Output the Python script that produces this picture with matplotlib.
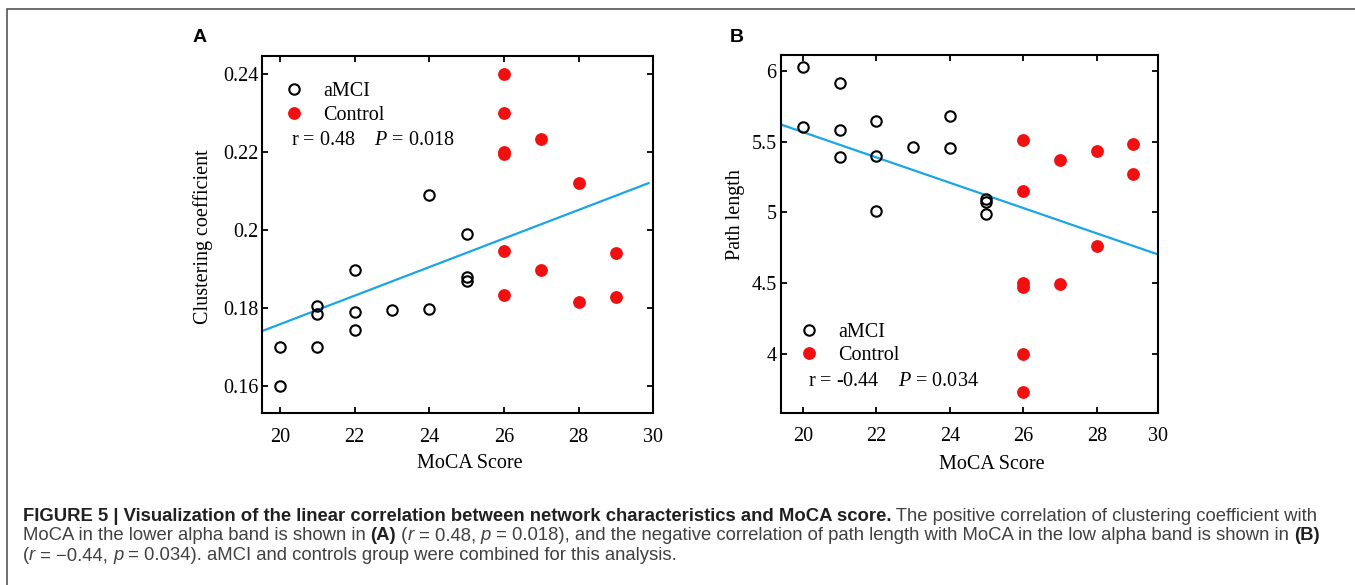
import matplotlib
matplotlib.use("Agg")
import matplotlib.pyplot as plt
from matplotlib.patches import Rectangle
import numpy as np

# panel A: clustering coefficient vs MoCA
a_amci_x = [20, 20, 21, 21, 21, 22, 22, 22, 23, 24, 24, 25, 25, 25]
a_amci_y = [0.160, 0.170, 0.1805, 0.1785, 0.170, 0.1897, 0.1789, 0.1744,
            0.1796, 0.209, 0.1798, 0.199, 0.188, 0.1868]
a_ctrl_x = [26, 26, 26, 26, 26, 26, 27, 27, 28, 28, 29, 29]
a_ctrl_y = [0.240, 0.2301, 0.2199, 0.2194, 0.1946, 0.1833, 0.2233, 0.1898,
            0.212, 0.1816, 0.1941, 0.1828]
a_fit_x = [19.53, 29.87]
a_fit_y = [0.1741, 0.2120]

# panel B: path length vs MoCA
b_amci_x = [20, 20, 21, 21, 21, 22, 22, 22, 23, 24, 24, 25, 25, 25]
b_amci_y = [6.023, 5.605, 5.915, 5.584, 5.394, 5.645, 5.398, 5.011,
            5.459, 5.683, 5.452, 5.095, 5.072, 4.989]
b_ctrl_x = [26, 26, 26, 26, 26, 26, 27, 27, 28, 28, 29, 29]
b_ctrl_y = [5.511, 5.152, 4.500, 4.477, 4.000, 3.734, 5.372, 4.493,
            5.436, 4.766, 5.483, 5.271]
b_fit_x = [19.36, 29.66]
b_fit_y = [5.624, 4.705]

plt.rcParams['font.family'] = ['Liberation Serif', 'DejaVu Serif']
plt.rcParams['mathtext.fontset'] = 'custom'
plt.rcParams['mathtext.rm'] = 'Liberation Serif'
plt.rcParams['mathtext.it'] = 'Liberation Serif:italic'

FS = 14.5
W, H = 1355, 585
fig = plt.figure(figsize=(W / 100, H / 100), dpi=100)


def style_axes(ax):
    for s in ax.spines.values():
        s.set_linewidth(1.5)
    ax.tick_params(direction='in', top=True, right=True, length=4, width=1.3,
                   labelsize=FS)
    ax.tick_params(axis='x', pad=10.5)
    ax.tick_params(axis='y', pad=3)


def scatter_panel(ax, ax_x, ax_y, cx, cy, fx, fy):
    ax.plot(fx, fy, color='#1ba5e6', lw=1.6, zorder=1)
    ax.plot(ax_x, ax_y, 'o', mfc='none', mec='black', mew=1.5, ms=7.5,
            label='aMCI', zorder=2)
    ax.plot(cx, cy, 'o', color='#f01010', ms=8.2, label='Control', zorder=2)


axA = fig.add_axes([0.1936, 0.2935, 0.2886, 0.6108])
scatter_panel(axA, a_amci_x, a_amci_y, a_ctrl_x, a_ctrl_y, a_fit_x, a_fit_y)
axA.set_xlim(19.53, 30)
axA.set_ylim(0.153, 0.2446)
axA.set_xticks([20, 22, 24, 26, 28, 30])
axA.set_yticks([0.16, 0.18, 0.2, 0.22, 0.24])
axA.set_yticklabels(['0.16', '0.18', '0.2', '0.22', '0.24'])
style_axes(axA)
axA.set_xlabel('MoCA Score', fontsize=FS)
axA.set_ylabel('Clustering coefficient', fontsize=FS)
axA.xaxis.set_label_coords(0.53, -0.114)
axA.yaxis.set_label_coords(-0.127, 0.494)
axA.legend(loc='upper left', bbox_to_anchor=(0.056, 0.927), frameon=False,
           fontsize=FS, borderpad=0, borderaxespad=0, handlelength=1.0,
           handletextpad=0.93, labelspacing=0.22, numpoints=1)
axA.text(0.0734, 0.7636, r'r = 0.48    $\mathit{P}$ = 0.018', transform=axA.transAxes,
         fontsize=FS, va='center', ha='left')

axB = fig.add_axes([0.5762, 0.2945, 0.2782, 0.6115])
scatter_panel(axB, b_amci_x, b_amci_y, b_ctrl_x, b_ctrl_y, b_fit_x, b_fit_y)
axB.set_xlim(19.40, 29.66)
axB.set_ylim(3.589, 6.11)
axB.set_xticks([20, 22, 24, 26, 28, 29.66])
axB.set_xticklabels(['20', '22', '24', '26', '28', '30'])
axB.set_yticks([4, 4.5, 5, 5.5, 6])
axB.set_yticklabels(['4', '4.5', '5', '5.5', '6'])
style_axes(axB)
axB.set_xlabel('MoCA Score', fontsize=FS)
axB.set_ylabel('Path length', fontsize=FS)
axB.xaxis.set_label_coords(0.56, -0.118)
axB.yaxis.set_label_coords(-0.095, 0.553)
axB.legend(loc='upper left', bbox_to_anchor=(0.0485, 0.252), frameon=False,
           fontsize=FS, borderpad=0, borderaxespad=0, handlelength=1.0,
           handletextpad=0.93, labelspacing=0.22, numpoints=1)
axB.text(0.0716, 0.087, r'r = -0.44    $\mathit{P}$ = 0.034', transform=axB.transAxes,
         fontsize=FS, va='center', ha='left')

# panel letters
fig.text(193 / W, 1 - 42 / H, 'A', family='Liberation Sans', weight='bold',
         fontsize=14, va='baseline')
fig.text(730 / W, 1 - 42 / H, 'B', family='Liberation Sans', weight='bold',
         fontsize=14, va='baseline')

# page frame
fig.patches.append(Rectangle((7.5 / W, -0.05), 1.1, 1 - 8.5 / H + 0.05,
                             transform=fig.transFigure, fill=False,
                             edgecolor='#555555', lw=1.2))

# caption with mixed bold / italic runs
renderer = fig.canvas.get_renderer()
CAP_FS = 13.3
REG = '#404040'
BLD = '#202020'


def text_width(s, **kw):
    t1 = fig.text(0, 0, '|' + s + '|', fontsize=CAP_FS, family='Liberation Sans', **kw)
    t2 = fig.text(0, 0, '||', fontsize=CAP_FS, family='Liberation Sans', **kw)
    w = t1.get_window_extent(renderer).width - t2.get_window_extent(renderer).width
    t1.remove()
    t2.remove()
    return w


def caption_line(runs, y_px, x_px=22.7):
    x = x_px
    for s, kind in runs:
        kw = {}
        color = REG
        if kind == 'b':
            kw['weight'] = 'bold'
            color = BLD
        elif kind == 'i':
            kw['style'] = 'italic'
        fig.text(x / W, 1 - y_px / H, s, fontsize=CAP_FS, family='Liberation Sans',
                 color=color, va='baseline', ha='left', **kw)
        x += text_width(s, **kw)


caption_line([
    ('FIGURE 5 | Visualization of the linear correlation between network '
     'characteristics and MoCA score.', 'b'),
    (' The positive correlation of clustering coefficient with', 'r'),
], 520.7)
caption_line([
    ('MoCA in the lower alpha band is shown in ', 'r'), ('(A)', 'b'),
    (' (', 'r'), ('r', 'i'), (' = 0.48, ', 'r'), ('p', 'i'),
    (' = 0.018), and the negative correlation of path length with MoCA in the '
     'low alpha band is shown in ', 'r'), ('(B)', 'b'),
], 540.5)
caption_line([
    ('(', 'r'), ('r', 'i'), (' = \u22120.44, ', 'r'), ('p', 'i'),
    (' = 0.034). aMCI and controls group were combined for this analysis.', 'r'),
], 560.3)

fig.savefig('out.png', dpi=100)
